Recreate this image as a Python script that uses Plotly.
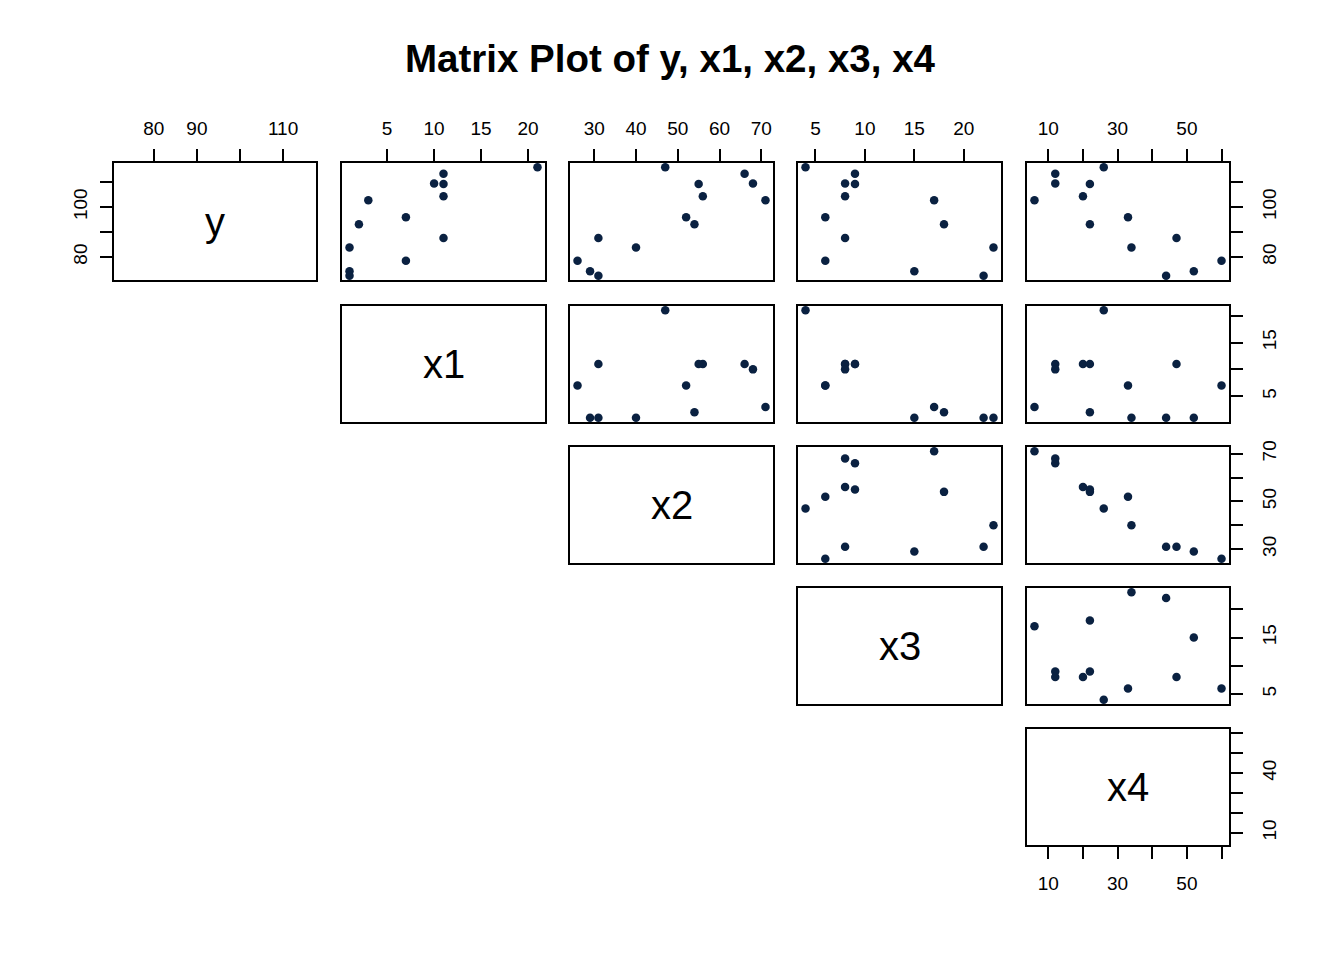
import plotly.graph_objs as go

# dados (cimento de Hald)
y = [78.5, 74.3, 104.3, 87.6, 95.9, 109.2, 102.7, 72.5, 93.1, 115.9, 83.8, 113.3, 109.4]
x1 = [7, 1, 11, 11, 7, 11, 3, 1, 2, 21, 1, 11, 10]
x2 = [26, 29, 56, 31, 52, 55, 71, 31, 54, 47, 40, 66, 68]
x3 = [6, 15, 8, 8, 6, 9, 17, 22, 18, 4, 23, 9, 8]
x4 = [60, 52, 20, 47, 33, 22, 6, 44, 22, 26, 34, 12, 12]

nomes = ['y', 'x1', 'x2', 'x3', 'x4']

# marcas dos eixos
ticks_y = [80, 90, 100, 110]
ticks_x1 = [5, 10, 15, 20]
ticks_x2 = [30, 40, 50, 60, 70]
ticks_x3 = [5, 10, 15, 20]
ticks_x4 = [10, 20, 30, 40, 50, 60]

# rotulos visiveis (R esconde os que se sobrepoem)
rotulos_topo = [['80', '90', '', '110'],
                ['5', '10', '15', '20'],
                ['30', '40', '50', '60', '70'],
                ['5', '10', '15', '20'],
                ['10', '', '30', '', '50', '']]
rotulos_direita = [['80', '', '100', ''],
                   ['5', '', '15', ''],
                   ['30', '', '50', '', '70'],
                   ['5', '', '15', ''],
                   ['10', '', '', '40', '', '']]
rotulos_esquerda_y = ['80', '', '100', '']
rotulos_baixo_x4 = ['10', '', '30', '', '50', '']

dados = [y, x1, x2, x3, x4]
ticks = [ticks_y, ticks_x1, ticks_x2, ticks_x3, ticks_x4]

W, H = 1344, 960
# posicoes dos paineis em pixels
colunas = [(114, 316), (342, 545), (570, 773), (798, 1001), (1027, 1229)]
linhas = [(163, 280), (306, 422), (447, 563), (588, 704), (729, 845)]

COR = '#0a2141'
FONTE = 'Arial, Liberation Sans, sans-serif'


def faixa(v):
    # igual ao R: estende 4% de cada lado
    a, b = min(v), max(v)
    d = (b - a) * 0.04
    return [a - d, b + d]


def eixo_base():
    return dict(showgrid=False, zeroline=False, showline=True, mirror=True,
                linecolor='black', linewidth=2, ticks='', showticklabels=False,
                tickfont=dict(family=FONTE, size=19, color='black'),
                ticklen=12, tickwidth=2, tickcolor='black', automargin=False)


fig = go.Figure()
layout = {}
anotacoes = []
k = 0
for i in range(5):
    for j in range(i, 5):
        k += 1
        xa = eixo_base()
        ya = eixo_base()
        xa['domain'] = [colunas[j][0] / W, colunas[j][1] / W]
        ya['domain'] = [1 - linhas[i][1] / H, 1 - linhas[i][0] / H]
        xa['range'] = faixa(dados[j])
        ya['range'] = faixa(dados[i])
        xa['anchor'] = 'y%d' % k
        ya['anchor'] = 'x%d' % k

        if i == 0:
            xa.update(side='top', ticks='outside', showticklabels=True,
                      tickvals=ticks[j], ticktext=rotulos_topo[j], tickangle=0,
                      ticklabelstandoff=6)
        if i == 4 and j == 4:
            xa.update(side='bottom', ticks='outside', showticklabels=True,
                      tickvals=ticks[j], ticktext=rotulos_baixo_x4, tickangle=0,
                      ticklabelstandoff=8)
        if j == 4:
            ya.update(side='right', ticks='outside', showticklabels=True,
                      tickvals=ticks[i], ticktext=rotulos_direita[i], tickangle=-90,
                      ticklabelstandoff=10)
        if i == 0 and j == 0:
            ya.update(side='left', ticks='outside', showticklabels=True,
                      tickvals=ticks[i], ticktext=rotulos_esquerda_y, tickangle=-90,
                      ticklabelstandoff=5)

        layout['xaxis%d' % k] = xa
        layout['yaxis%d' % k] = ya

        if i == j:
            # painel da diagonal: so o nome da variavel
            fig.add_trace(go.Scatter(x=[], y=[], mode='markers',
                                     xaxis='x%d' % k, yaxis='y%d' % k,
                                     showlegend=False, hoverinfo='skip'))
            anotacoes.append(dict(
                text=nomes[i], xref='paper', yref='paper', showarrow=False,
                x=(colunas[j][0] + colunas[j][1]) / 2 / W,
                y=1 - (linhas[i][0] + linhas[i][1]) / 2 / H,
                xanchor='center', yanchor='middle',
                font=dict(family=FONTE, size=40, color='black')))
        else:
            fig.add_trace(go.Scatter(x=dados[j], y=dados[i], mode='markers',
                                     xaxis='x%d' % k, yaxis='y%d' % k,
                                     marker=dict(color=COR, size=8.5),
                                     showlegend=False, hoverinfo='skip'))

anotacoes.append(dict(
    text='<b>Matrix Plot of y, x1, x2, x3, x4</b>', xref='paper', yref='paper',
    showarrow=False, x=670.5 / W, y=1 - 58 / H, xanchor='center', yanchor='middle',
    font=dict(family=FONTE, size=38.5, color='black')))

fig.update_layout(layout)
fig.update_layout(width=W, height=H, margin=dict(l=0, r=0, t=0, b=0, pad=0),
                  paper_bgcolor='white', plot_bgcolor='white',
                  annotations=anotacoes, showlegend=False)

# tira a margem padrao do body para a figura ficar no canto
fig.write_html("out.html", config={'displayModeBar': False},
               post_script="document.body.style.margin='0px';")
